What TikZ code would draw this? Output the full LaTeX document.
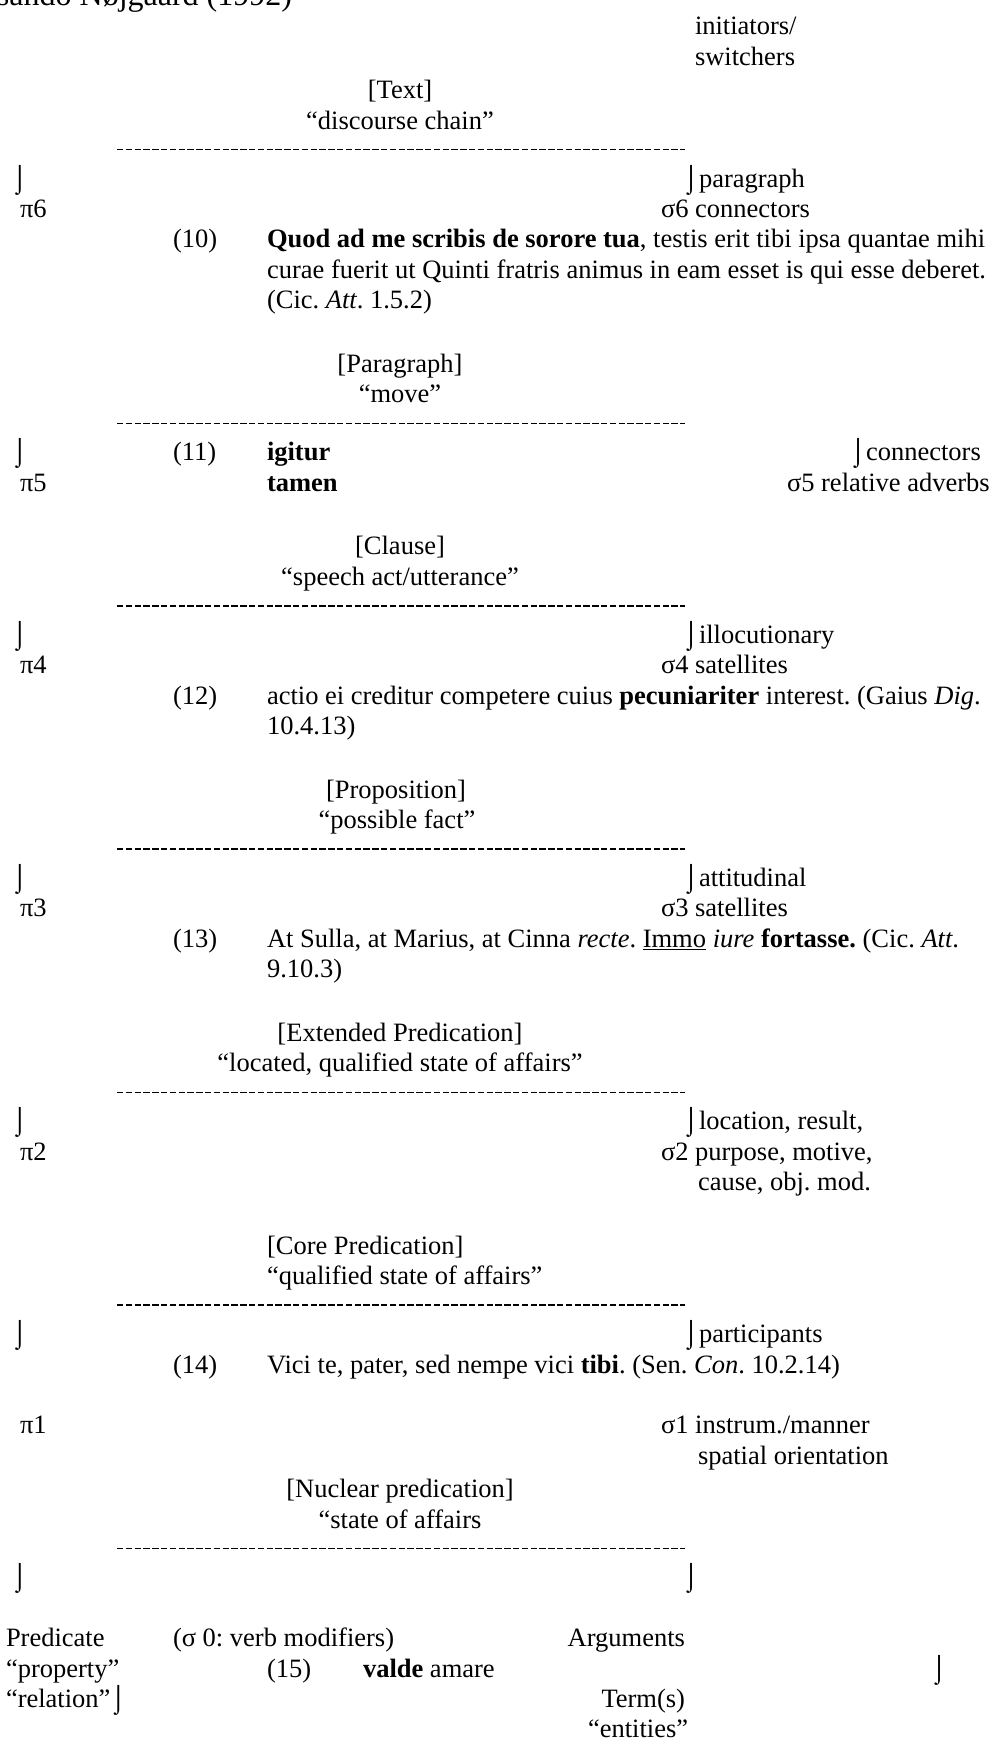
\documentclass[tikz,border=0pt]{standalone}
\usepackage{fontspec}
\setmainfont{Liberation Serif}
\frenchspacing
\newcommand{\bodyfs}{\fontsize{26.5}{30.5}\selectfont}
\newcommand{\headfs}{\fontsize{32}{36}\selectfont}
% baseline of text line k (line pitch 30.41)
\newcommand{\yl}[1]{4.59+30.41*#1}
\begin{document}
\begin{tikzpicture}[x=1pt,y=-1pt,
  txt/.style={inner sep=0pt, outer sep=0pt, anchor=base west, font=\bodyfs},
  ctr/.style={txt, anchor=base},
  rgt/.style={txt, anchor=base east},
  dashline/.style={line width=1.6pt, dash pattern=on 6.3pt off 2.5pt}]
\useasboundingbox (0,0) rectangle (993,1742);
\fill[white] (0,0) rectangle (993,1742);
% header
\node[txt, font=\headfs] (head) at (-3,6) {sando Nøjgaard (1992)};
\node[txt] (init) at (695,{\yl{1}}) {initiators/};
\node[txt] (switch) at (695,{\yl{2}}) {switchers};
% Text
\node[ctr] (t1) at (400,{\yl{3}+3}) {[Text]};
\node[ctr] (t1b) at (400,{\yl{4}+3}) {“discourse chain”};
\coordinate (d1a) at (117,{\yl{5}-7}); \coordinate (d1b) at (685,{\yl{5}-7});
\draw[dashline] (d1a) -- (d1b);
\node[txt] (iL1) at (12,{\yl{6}}) {⌡};
\node[txt] (iR1) at (683,{\yl{6}}) {⌡paragraph};
\node[txt] (p6) at (20,{\yl{7}}) {π6};
\node[txt] (s6) at (661,{\yl{7}}) {σ6 connectors};
\node[txt] (n10) at (173,{\yl{8}}) {(10)};
\node[txt] (e10a) at (267,{\yl{8}}) {\textbf{Quod ad me scribis de sorore tua}, testis erit tibi ipsa quantae mihi};
\node[txt] (e10b) at (267,{\yl{9}}) {curae fuerit ut Quinti fratris animus in eam esset is qui esse deberet.};
\node[txt] (e10c) at (267,{\yl{10}}) {(Cic. \textit{Att}. 1.5.2)};
% Paragraph
\node[ctr] (t2) at (400,{\yl{12}+3}) {[Paragraph]};
\node[ctr] (t2b) at (400,{\yl{13}+3}) {“move”};
\coordinate (d2a) at (117,{\yl{14}-7}); \coordinate (d2b) at (685,{\yl{14}-7});
\draw[dashline] (d2a) -- (d2b);
\node[txt] (iL2) at (12,{\yl{15}}) {⌡};
\node[txt] (n11) at (173,{\yl{15}}) {(11)};
\node[txt] (e11a) at (267,{\yl{15}}) {\textbf{igitur}};
\node[txt] (iR2) at (850,{\yl{15}}) {⌡connectors};
\node[txt] (p5) at (20,{\yl{16}}) {π5};
\node[txt] (e11b) at (267,{\yl{16}}) {\textbf{tamen}};
\node[txt] (s5) at (787,{\yl{16}}) {σ5 relative adverbs};
% Clause
\node[ctr] (t3) at (400,{\yl{18}+3}) {[Clause]};
\node[ctr] (t3b) at (400,{\yl{19}+3}) {“speech act/utterance”};
\coordinate (d3a) at (117,{\yl{20}-7}); \coordinate (d3b) at (685,{\yl{20}-7});
\draw[dashline] (d3a) -- (d3b);
\node[txt] (iL3) at (12,{\yl{21}}) {⌡};
\node[txt] (iR3) at (683,{\yl{21}}) {⌡illocutionary};
\node[txt] (p4) at (20,{\yl{22}}) {π4};
\node[txt] (s4) at (661,{\yl{22}}) {σ4 satellites};
\node[txt] (n12) at (173,{\yl{23}}) {(12)};
\node[txt] (e12a) at (267,{\yl{23}}) {actio ei creditur competere cuius \textbf{pecuniariter} interest. (Gaius \textit{Dig}.};
\node[txt] (e12b) at (267,{\yl{24}}) {10.4.13)};
% Proposition
\node[ctr] (t4) at (396,{\yl{26}+3}) {[Proposition]};
\node[ctr] (t4b) at (397,{\yl{27}+3}) {“possible fact”};
\coordinate (d4a) at (117,{\yl{28}-7}); \coordinate (d4b) at (685,{\yl{28}-7});
\draw[dashline] (d4a) -- (d4b);
\node[txt] (iL4) at (12,{\yl{29}}) {⌡};
\node[txt] (iR4) at (683,{\yl{29}}) {⌡attitudinal};
\node[txt] (p3) at (20,{\yl{30}}) {π3};
\node[txt] (s3) at (661,{\yl{30}}) {σ3 satellites};
\node[txt] (n13) at (173,{\yl{31}}) {(13)};
\node[txt] (e13a) at (267,{\yl{31}}) {At Sulla, at Marius, at Cinna \textit{recte}. \underline{Immo} \textit{iure} \textbf{fortasse.} (Cic. \textit{Att}.};
\node[txt] (e13b) at (267,{\yl{32}}) {9.10.3)};
% Extended Predication
\node[ctr] (t5) at (400,{\yl{34}+3}) {[Extended Predication]};
\node[ctr] (t5b) at (400,{\yl{35}+3}) {“located, qualified state of affairs”};
\coordinate (d5a) at (117,{\yl{36}-7}); \coordinate (d5b) at (685,{\yl{36}-7});
\draw[dashline] (d5a) -- (d5b);
\node[txt] (iL5) at (12,{\yl{37}}) {⌡};
\node[txt] (iR5) at (683,{\yl{37}}) {⌡location, result,};
\node[txt] (p2) at (20,{\yl{38}}) {π2};
\node[txt] (s2) at (661,{\yl{38}}) {σ2 purpose, motive,};
\node[txt] (s2b) at (698,{\yl{39}}) {cause, obj. mod.};
% Core Predication
\node[txt] (t6) at (267,{\yl{41}+3}) {[Core Predication]};
\node[txt] (t6b) at (267,{\yl{42}+3}) {“qualified state of affairs”};
\coordinate (d6a) at (117,{\yl{43}-7}); \coordinate (d6b) at (685,{\yl{43}-7});
\draw[dashline] (d6a) -- (d6b);
\node[txt] (iL6) at (12,{\yl{44}}) {⌡};
\node[txt] (iR6) at (683,{\yl{44}}) {⌡participants};
\node[txt] (n14) at (173,{\yl{45}}) {(14)};
\node[txt] (e14) at (267,{\yl{45}}) {Vici te, pater, sed nempe vici \textbf{tibi}. (Sen. \textit{Con}. 10.2.14)};
\node[txt] (p1) at (20,{\yl{47}}) {π1};
\node[txt] (s1) at (661,{\yl{47}}) {σ1 instrum./manner};
\node[txt] (s1b) at (698,{\yl{48}}) {spatial orientation};
% Nuclear predication
\node[ctr] (t7) at (400,{\yl{49}+3}) {[Nuclear predication]};
\node[ctr] (t7b) at (400,{\yl{50}+3}) {“state of affairs};
\coordinate (d7a) at (117,{\yl{51}-7}); \coordinate (d7b) at (685,{\yl{51}-7});
\draw[dashline] (d7a) -- (d7b);
\node[txt] (iL7) at (12,{\yl{52}}) {⌡};
\node[txt] (iR7) at (683,{\yl{52}}) {⌡};
% bottom
\node[txt] (pred) at (6,{\yl{54}}) {Predicate};
\node[txt] (sig0) at (173,{\yl{54}}) {(σ 0: verb modifiers)};
\node[rgt] (args) at (685,{\yl{54}}) {Arguments};
\node[txt] (prop) at (6,{\yl{55}}) {“property”};
\node[txt] (n15) at (267,{\yl{55}}) {(15)};
\node[txt] (e15) at (363,{\yl{55}}) {\textbf{valde} amare};
\node[txt] (iR8) at (931,{\yl{55}}) {⌡};
\node[txt] (rel) at (6,{\yl{56}}) {“relation”⌡};
\node[rgt] (term) at (685,{\yl{56}}) {Term(s)};
\node[txt] (ent) at (588,{\yl{57}}) {“entities”};
\end{tikzpicture}
\end{document}
